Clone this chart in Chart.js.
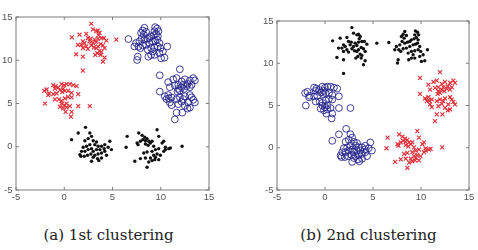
<!DOCTYPE html>
<html lang="en">
<head>
    <meta charset="UTF-8">
    <title>1st and 2nd clustering</title>
    <script src="https://cdn.jsdelivr.net/npm/chart.js"></script>
    <style>
        body { margin: 0; background: #fff; width: 478px; height: 250px; position: relative; overflow: hidden; }
        .plot { position: absolute; top: 0; width: 239px; height: 210px; }
        .caption { position: absolute; top: 226px; width: 239px; text-align: center; font-family: "DejaVu Serif", serif; font-size: 15px; color: #222; }
    </style>
</head>
<body>
    <div class="plot" style="left:0"><canvas id="chartA"></canvas></div>
    <div class="plot" style="left:239px"><canvas id="chartB"></canvas></div>
    <div class="caption" style="left:-11px">(a) 1st clustering</div>
    <div class="caption" style="left:249px">(b) 2nd clustering</div>
    <script>
        // axis ticks (same for both plots)
        const tickValues = [-5, 0, 5, 10, 15];

        // six groups of points (same points in both plots)
        const groupTopLeft = [[2.80,14.22],[0.79,12.65],[1.58,12.97],[2.28,13.05],[2.97,13.56],[3.32,13.36],[3.49,13.44],[3.66,13.16],[3.56,12.89],[3.84,12.57],[4.11,12.57],[4.36,12.26],[5.40,12.38],[2.45,12.57],[2.73,12.50],[3.14,12.38],[1.93,12.18],[2.10,11.99],[1.76,11.79],[1.41,11.79],[2.28,11.59],[2.80,11.71],[3.07,11.48],[3.32,11.40],[3.49,11.59],[3.77,11.87],[4.01,11.71],[4.18,11.40],[3.66,11.08],[3.84,10.93],[3.42,10.81],[2.45,11.32],[1.93,11.40],[1.24,10.69],[1.93,10.42],[3.21,10.61],[3.77,10.61],[4.18,10.30],[4.01,9.83],[1.93,8.80],[2.62,12.18],[2.97,11.99],[3.32,12.10],[3.49,12.50]];
        const groupTopRight = [[8.31,13.75],[8.14,13.44],[7.96,13.16],[8.24,12.97],[8.48,13.28],[9.42,13.83],[9.63,13.67],[9.35,13.36],[9.76,13.36],[9.52,13.05],[9.28,12.89],[9.70,12.77],[9.00,12.77],[8.83,12.57],[8.59,12.50],[8.31,12.38],[8.03,12.57],[7.79,12.18],[7.44,11.99],[7.27,11.59],[7.69,11.59],[7.89,11.40],[8.14,11.71],[8.48,11.79],[8.83,11.99],[9.18,12.18],[9.42,12.26],[9.63,12.38],[9.87,11.99],[9.70,11.59],[9.35,11.48],[9.00,11.40],[8.66,11.20],[9.18,11.01],[9.00,10.61],[8.72,10.42],[9.35,10.61],[9.87,10.81],[10.22,11.01],[9.97,11.40],[10.67,11.59],[7.62,10.42],[7.55,10.03],[6.65,12.45],[10.04,10.22],[10.39,10.30]];
        const groupRight = [[11.98,8.96],[9.90,8.26],[13.37,7.94],[13.54,7.67],[13.02,7.67],[12.50,7.79],[12.16,7.55],[11.64,7.94],[11.29,7.79],[10.77,7.47],[10.94,6.88],[11.46,7.08],[11.81,7.16],[12.16,6.88],[11.81,6.69],[11.74,6.37],[11.98,6.49],[12.43,6.69],[12.68,7.00],[12.78,7.28],[12.33,7.16],[13.02,6.88],[13.20,7.16],[9.90,6.37],[10.77,5.98],[10.42,5.83],[10.60,5.51],[10.84,5.59],[11.12,5.71],[10.94,5.12],[11.12,4.81],[11.64,5.51],[11.98,5.71],[12.33,5.51],[12.16,5.20],[12.50,5.83],[13.02,5.98],[13.20,5.71],[13.37,5.43],[12.85,5.12],[12.50,4.73],[12.78,4.41],[13.02,4.53],[12.23,3.94],[11.64,3.94],[11.46,3.16],[13.54,5.12],[11.81,4.92]];
        const groupBottomRight = [[9.62,1.97],[7.72,1.59],[6.52,1.20],[8.07,1.32],[8.34,1.09],[8.58,0.94],[8.76,0.63],[8.41,0.70],[8.14,0.82],[7.89,0.63],[7.55,0.44],[7.65,0.24],[8.41,0.32],[8.69,0.17],[8.93,0.44],[9.10,0.63],[9.79,1.20],[10.31,0.63],[10.14,0.44],[9.27,0.05],[9.45,-0.33],[9.79,-0.22],[10.48,-0.33],[10.31,-0.53],[11.00,-0.14],[12.21,0.05],[6.41,-0.06],[8.24,-0.72],[8.58,-0.60],[9.10,-0.53],[9.62,-0.83],[9.27,-0.99],[8.93,-1.30],[9.45,-1.22],[9.96,-0.99],[9.10,-1.60],[8.76,-1.76],[8.41,-1.30],[7.89,-1.37],[7.31,-1.68],[8.58,-2.37],[9.38,-1.49],[9.79,-1.49],[10.48,-0.06],[10.83,-0.22]];
        const groupBottomLeft = [[2.20,2.24],[1.45,1.59],[0.76,0.82],[2.65,1.59],[2.83,1.20],[2.48,0.94],[2.14,0.70],[3.00,0.70],[3.34,0.55],[3.17,0.24],[3.51,0.05],[2.65,0.24],[2.31,0.05],[1.96,-0.06],[1.79,-0.53],[1.62,-0.91],[2.14,-0.53],[2.48,-0.33],[2.83,-0.22],[3.00,-0.53],[3.34,-0.33],[3.69,-0.33],[3.86,0.05],[4.20,0.24],[4.72,0.63],[4.55,-0.06],[4.20,-0.53],[3.86,-0.72],[3.51,-0.83],[3.17,-0.99],[2.76,-0.83],[2.41,-0.99],[2.07,-1.10],[1.72,-1.10],[3.86,-1.30],[4.38,-0.99],[4.89,-0.33],[3.58,-1.60],[2.83,-1.68],[3.45,-1.37],[4.14,-0.22],[3.00,-1.22]];
        const groupLeft = [[-1.14,7.12],[-0.90,7.00],[-0.97,6.73],[-0.62,6.85],[-0.28,7.23],[0.00,7.12],[0.24,7.23],[0.58,7.23],[0.93,7.12],[1.27,7.00],[-0.11,6.73],[0.07,6.47],[-0.21,6.35],[-0.45,6.54],[0.41,6.47],[0.76,6.23],[-0.80,6.16],[-1.14,6.08],[-1.66,5.97],[-2.07,6.47],[-1.83,6.62],[-2.00,5.00],[-0.97,5.47],[-0.55,5.47],[-0.28,5.31],[0.07,5.58],[0.41,5.77],[0.76,5.70],[1.45,6.08],[-0.28,5.00],[0.00,4.81],[0.24,5.00],[-0.45,4.62],[-0.11,4.43],[0.24,4.54],[0.58,4.70],[0.14,4.04],[0.76,4.04],[0.69,3.47],[1.45,4.70],[2.65,4.70],[-1.59,6.16]];

        const red = 'rgb(222,45,55)';
        const blue = 'rgb(40,40,140)';
        const black = '#111';

        function toPoints(groups) {
            return groups.flat().map(p => ({ x: p[0], y: p[1] }));
        }

        function crossSet(groups) {
            return { data: toPoints(groups), pointStyle: 'crossRot', radius: 2.8, borderColor: red, borderWidth: 1.1 };
        }
        function circleSet(groups) {
            return { data: toPoints(groups), pointStyle: 'circle', radius: 3.4, borderColor: blue, backgroundColor: 'rgba(0,0,0,0)', borderWidth: 0.9 };
        }
        function dotSet(groups) {
            return { data: toPoints(groups), pointStyle: 'circle', radius: 1.7, borderWidth: 0, backgroundColor: black };
        }

        // MATLAB-like box with inward ticks on all sides
        const boxTicks = {
            id: 'boxTicks',
            afterDraw(chart) {
                const { ctx, chartArea: a, scales: { x, y } } = chart;
                ctx.save();
                ctx.strokeStyle = '#7d7d7d';
                ctx.lineWidth = 1;
                ctx.strokeRect(a.left, a.top, a.right - a.left, a.bottom - a.top);
                ctx.beginPath();
                tickValues.forEach(v => {
                    const px = x.getPixelForValue(v);
                    ctx.moveTo(px, a.bottom); ctx.lineTo(px, a.bottom - 3);
                    ctx.moveTo(px, a.top); ctx.lineTo(px, a.top + 3);
                    const py = y.getPixelForValue(v);
                    ctx.moveTo(a.left, py); ctx.lineTo(a.left + 3, py);
                    ctx.moveTo(a.right, py); ctx.lineTo(a.right - 3, py);
                });
                ctx.stroke();
                ctx.restore();
            }
        };

        function makeChart(id, datasets, pad, yWidth) {
            const tickFont = { family: 'Liberation Sans', size: 9.5 };
            new Chart(document.getElementById(id), {
                type: 'scatter',
                data: { datasets: datasets },
                options: {
                    responsive: true,
                    maintainAspectRatio: false,
                    animation: false,
                    layout: { padding: pad },
                    plugins: { legend: { display: false }, tooltip: { enabled: false } },
                    scales: {
                        x: {
                            min: -5, max: 15,
                            afterBuildTicks: s => { s.ticks = tickValues.map(v => ({ value: v })); },
                            afterFit: s => { s.height = 20; },
                            grid: { display: false, drawTicks: false },
                            border: { display: false },
                            ticks: { color: '#555', font: tickFont, padding: 2, maxRotation: 0 }
                        },
                        y: {
                            min: -5, max: 15,
                            afterBuildTicks: s => { s.ticks = tickValues.map(v => ({ value: v })); },
                            afterFit: s => { s.width = yWidth; },
                            grid: { display: false, drawTicks: false },
                            border: { display: false },
                            ticks: { color: '#555', font: tickFont, padding: 3.5 }
                        }
                    }
                },
                plugins: [boxTicks]
            });
        }

        makeChart('chartA', [
            crossSet([groupTopLeft, groupLeft]),
            circleSet([groupTopRight, groupRight]),
            dotSet([groupBottomLeft, groupBottomRight])
        ], { top: 17, right: 30, left: 0, bottom: 0 }, 16);

        makeChart('chartB', [
            dotSet([groupTopLeft, groupTopRight]),
            circleSet([groupLeft, groupBottomLeft]),
            crossSet([groupRight, groupBottomRight])
        ], { top: 21, right: 9, left: 0, bottom: 0 }, 38);
    </script>
</body>
</html>
